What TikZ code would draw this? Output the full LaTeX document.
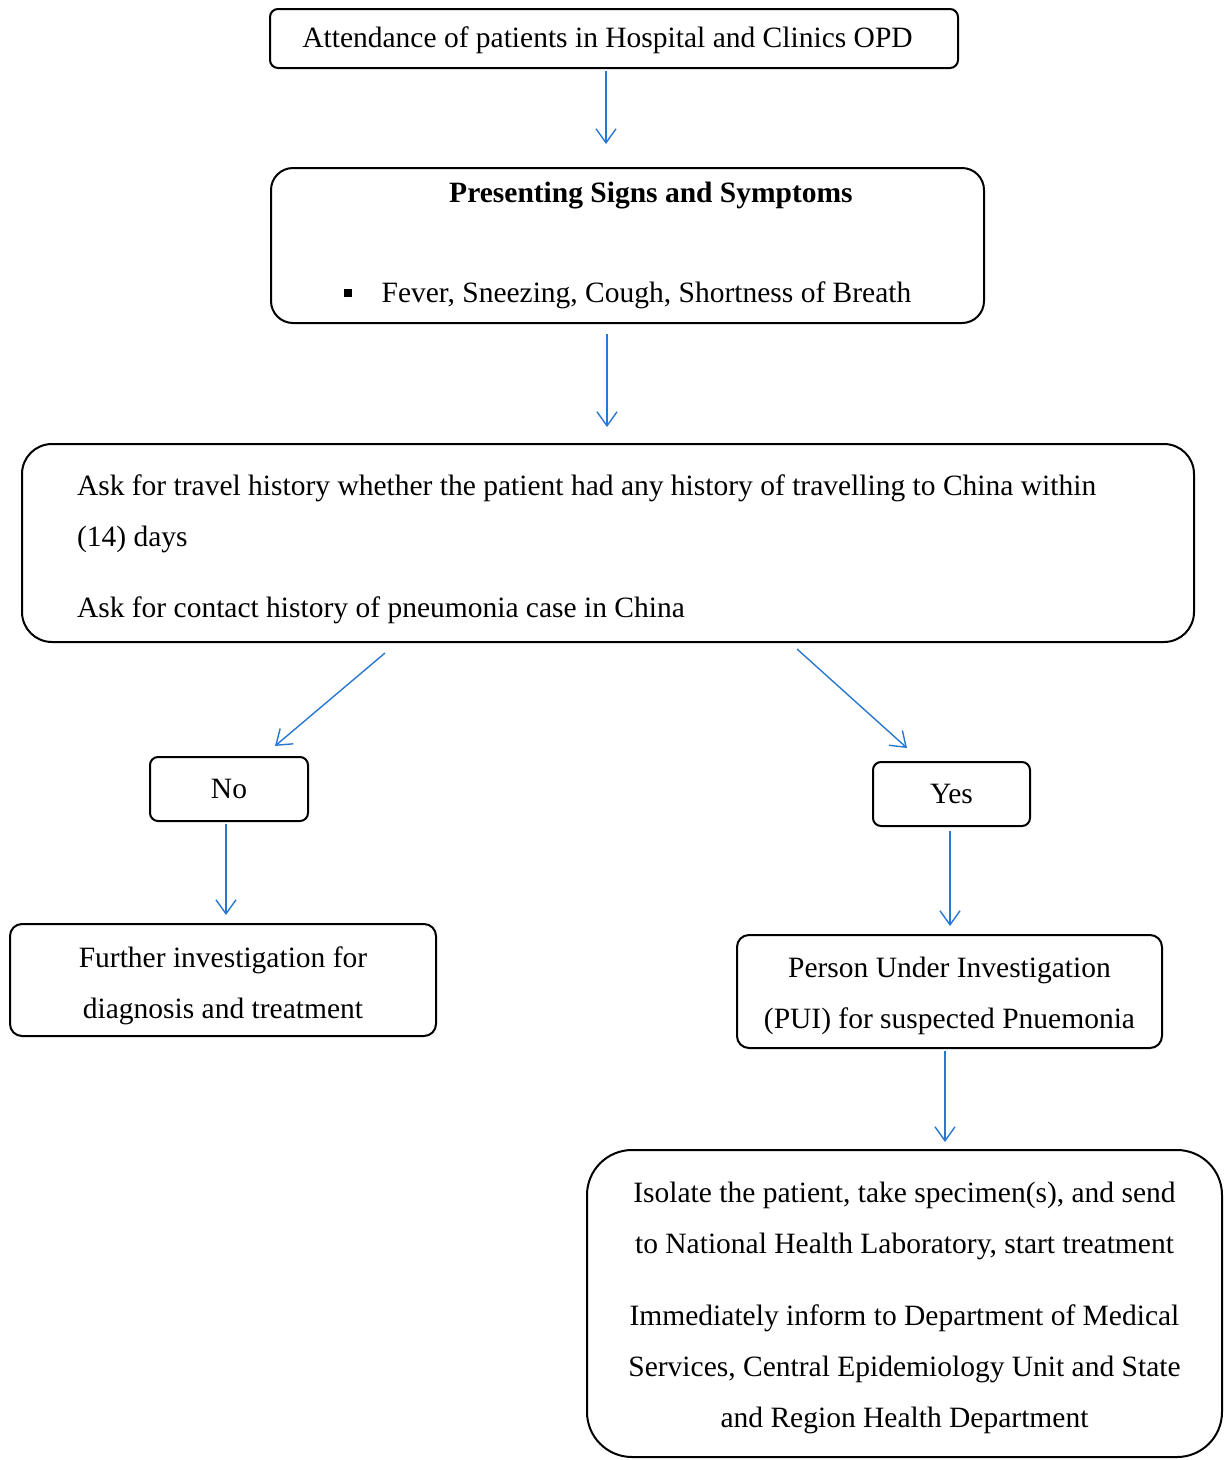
\documentclass[tikz,border=0pt]{standalone}
\usepackage{fontspec}
\setmainfont{Liberation Serif}
\usetikzlibrary{arrows.meta,calc}
\definecolor{arrowblue}{RGB}{40,120,210}
\tikzset{
  box/.style={draw=black, line width=2pt, inner sep=0pt, font=\fontsize{29.5}{35}\selectfont},
  wide/.style={font=\fontsize{29.5}{51}\selectfont},
  arr/.style={draw=arrowblue, line width=1.4pt, -{Straight Barb[length=14pt,width=20pt,line width=1.4pt]}}
}
\begin{document}
\begin{tikzpicture}[x=1pt,y=-1pt]
\useasboundingbox (0,0) rectangle (1227,1460);
\node[box, rounded corners=8pt, minimum width=688pt, minimum height=59pt] (att) at (614,38.5) {\hspace*{-13pt}\rule{0pt}{24.5pt}Attendance of patients in Hospital and Clinics OPD};
\node[box, rounded corners=22pt, minimum width=713pt, minimum height=155pt, align=center] (pres) at (627.5,245.5)
  {\hspace*{47pt}\textbf{Presenting Signs and Symptoms}\\[65pt]\raisebox{6pt}{\rule{8pt}{8pt}}\hspace{30pt}Fever, Sneezing, Cough, Shortness of Breath};
\node[box, wide, rounded corners=30pt, minimum width=1172pt, minimum height=198pt, align=flush left, text width=1062pt] (ask) at (608,543)
  {\rule{0pt}{34pt}Ask for travel history whether the patient had any history of travelling to China within\\(14) days\\[20pt]Ask for contact history of pneumonia case in China};
\node[box, rounded corners=8pt, minimum width=158pt, minimum height=64pt] (no) at (229,789) {No};
\node[box, rounded corners=8pt, minimum width=157pt, minimum height=64pt] (yes) at (951.5,794) {Yes};
\node[box, wide, rounded corners=12pt, minimum width=426pt, minimum height=112pt, align=center] (fur) at (223,980)
  {\rule{0pt}{32pt}Further investigation for\\diagnosis and treatment};
\node[box, wide, rounded corners=12pt, minimum width=425pt, minimum height=113pt, align=center] (pui) at (949.5,991.5)
  {\rule{0pt}{30pt}Person Under Investigation\\(PUI) for suspected Pnuemonia};
\node[box, wide, rounded corners=45pt, minimum width=635pt, minimum height=307pt, align=center] (iso) at (904.5,1303.5)
  {\rule{0pt}{29.5pt}Isolate the patient, take specimen(s), and send\\to National Health Laboratory, start treatment\\[21pt]Immediately inform to Department of Medical\\Services, Central Epidemiology Unit and State\\and Region Health Department};
% arrow end points, relative to the nodes
\coordinate (a1s) at ($(att.south)+(-8,2)$);
\coordinate (a1e) at ($(pres.north)+(-21.5,-23)$);
\coordinate (a2s) at ($(pres.south)+(-20.5,10)$);
\coordinate (a2e) at ($(ask.north)+(-1,-16)$);
\coordinate (a3s) at ($(ask.south)+(-223,10)$);
\coordinate (a3e) at ($(no.north)+(46,-10)$);
\coordinate (a4s) at ($(ask.south)+(189,6)$);
\coordinate (a4e) at ($(yes.north)+(-44.5,-13)$);
\coordinate (a5s) at ($(no.south)+(-3,2)$);
\coordinate (a5e) at ($(fur.north)+(3,-8)$);
\coordinate (a6s) at ($(yes.south)+(-1.5,4)$);
\coordinate (a6e) at ($(pui.north)+(0.5,-8)$);
\coordinate (a7s) at ($(pui.south)+(-4.5,2)$);
\coordinate (a7e) at ($(iso.north)+(40.5,-7)$);
\draw[arr] (a1s) -- (a1e);
\draw[arr] (a2s) -- (a2e);
\draw[arr] (a3s) -- (a3e);
\draw[arr] (a4s) -- (a4e);
\draw[arr] (a5s) -- (a5e);
\draw[arr] (a6s) -- (a6e);
\draw[arr] (a7s) -- (a7e);
\end{tikzpicture}
\end{document}
